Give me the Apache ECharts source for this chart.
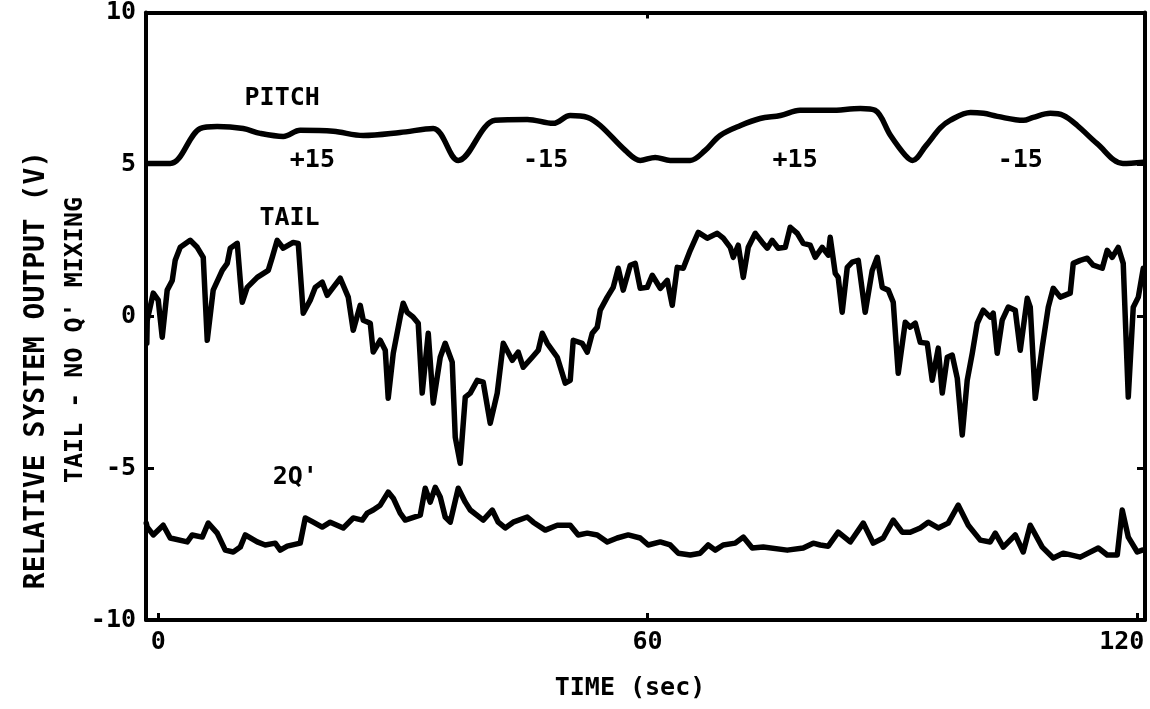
<!DOCTYPE html>
<html>
<head>
<meta charset="utf-8">
<script src="https://cdn.jsdelivr.net/npm/echarts@6/dist/echarts.min.js"></script>
<style>
html,body{margin:0;padding:0;background:#fff;}
#chart{width:1150px;height:709px;}
</style>
</head>
<body>
<div id="chart"></div>
<script>
// ---- data (time in sec, output in V) ----
const xTickVals = [0, 60, 120];
const yTickLabels = ['-10', '-5', '0', '5', '10'];

const pitchData = [
  [-1.4,5.03],[1.47,5.03],[5.15,6.18],[7.23,6.25],[10.42,6.18],[12.51,6.02],[15.33,5.92],[17.41,6.12],
  [21.46,6.09],[25.14,5.95],[29.67,6.05],[33.72,6.18],[36.79,5.13],[41.32,6.45],[45.25,6.48],[48.44,6.35],
  [50.52,6.61],[52.61,6.55],[54.2,6.28],[57.27,5.46],[59.1,5.13],[60.94,5.23],[62.78,5.13],[65.23,5.13],
  [67.07,5.46],[68.9,5.95],[71.4,6.28],[73.8,6.51],[76.3,6.61],[78.7,6.78],[82.4,6.78],[86.1,6.84],
  [87.9,6.78],[89.8,5.95],[91.6,5.3],[92.5,5.13],[94.1,5.6],[95.9,6.2],[97.1,6.45],[99.6,6.71],
  [101.2,6.68],[102.9,6.58],[106.1,6.45],[107.3,6.55],[109.4,6.68],[111.0,6.61],[112.7,6.28],[115.1,5.69],
  [118.3,5.03],[120.8,5.07]
];

const tailData = [
  [-1.4,-0.89],[-1.35,-0.13],[-0.61,0.76],[0,0.53],[0.49,-0.69],[1.10,0.86],[1.72,1.18],[2.08,1.84],
  [2.70,2.27],[3.92,2.50],[4.78,2.27],[5.52,1.94],[6.01,-0.79],[6.74,0.86],[7.85,1.51],[8.46,1.74],
  [8.83,2.24],[9.69,2.40],[10.06,1.18],[10.30,0.46],[10.91,0.95],[12.14,1.28],[13.49,1.51],[13.98,1.94],
  [14.59,2.50],[15.33,2.24],[16.55,2.43],[17.17,2.40],[17.78,0.10],[18.64,0.53],[19.25,0.95],[20.11,1.12],
  [20.72,0.69],[21.46,0.95],[22.32,1.25],[23.30,0.63],[23.91,-0.46],[24.77,0.36],[25.14,-0.13],[26.00,-0.23],
  [26.36,-1.18],[27.22,-0.79],[27.84,-1.12],[28.20,-2.70],[28.82,-1.22],[29.67,-0.03],[30.04,0.43],[30.53,0.13],
  [31.27,-0.03],[31.88,-0.23],[32.37,-2.53],[33.11,-0.56],[33.72,-2.86],[34.58,-1.35],[35.19,-0.89],[36.05,-1.51],
  [36.42,-3.98],[37.03,-4.84],[37.65,-2.66],[38.26,-2.53],[39.12,-2.11],[39.85,-2.17],[40.71,-3.52],[41.57,-2.53],
  [42.31,-0.89],[43.41,-1.45],[44.14,-1.18],[44.76,-1.68],[45.86,-1.35],[46.60,-1.12],[47.09,-0.56],[47.70,-0.89],
  [48.93,-1.35],[49.91,-2.20],[50.52,-2.11],[50.89,-0.79],[51.99,-0.89],[52.61,-1.18],[53.22,-0.56],[53.83,-0.36],
  [54.20,0.20],[55.06,0.63],[55.79,0.95],[56.41,1.58],[57.02,0.86],[57.88,1.68],[58.49,1.74],[59.10,0.92],
  [59.96,0.95],[60.58,1.35],[61.56,0.92],[62.42,1.18],[63.03,0.36],[63.64,1.61],[64.38,1.58],[65.24,2.17],
  [66.22,2.76],[67.32,2.57],[68.55,2.73],[69.29,2.57],[70.14,2.27],[70.51,1.94],[71.12,2.34],[71.74,1.28],
  [72.35,2.27],[73.21,2.73],[74.07,2.43],[74.68,2.24],[75.29,2.50],[76.03,2.24],[76.89,2.27],[77.50,2.93],
  [78.36,2.73],[79.09,2.40],[79.95,2.34],[80.56,1.94],[81.42,2.27],[82.16,2.01],[82.40,2.60],[83.02,1.41],
  [83.38,1.28],[83.87,0.13],[84.49,1.61],[85.10,1.78],[85.84,1.84],[86.69,0.13],[87.55,1.51],[88.17,1.94],
  [88.78,0.95],[89.52,0.86],[90.13,0.46],[90.74,-1.88],[91.60,-0.20],[92.21,-0.36],[92.83,-0.23],[93.44,-0.86],
  [94.30,-0.89],[94.91,-2.11],[95.65,-1.05],[96.14,-2.53],[96.75,-1.35],[97.36,-1.28],[97.98,-2.04],[98.59,-3.91],
  [99.20,-2.11],[99.82,-1.22],[100.43,-0.23],[101.16,0.20],[102.02,-0.03],[102.39,0.10],[102.88,-1.22],[103.49,-0.13],
  [104.23,0.30],[105.09,0.20],[105.70,-1.12],[106.56,0.59],[106.93,0.30],[107.54,-2.70],[108.40,-1.02],[109.14,0.30],
  [109.75,0.92],[110.61,0.63],[111.83,0.76],[112.20,1.74],[113.06,1.84],[113.92,1.91],[114.65,1.68],[115.76,1.58],
  [116.37,2.17],[116.98,1.94],[117.72,2.27],[118.33,1.74],[118.95,-2.66],[119.56,0.30],[120.18,0.63],[120.79,1.58]
];

const q2Data = [
  [-1.47,-6.81],[-1.35,-6.94],[-0.61,-7.20],[0.61,-6.88],[1.47,-7.30],[3.56,-7.43],[4.17,-7.20],[5.40,-7.27],
  [6.13,-6.81],[7.23,-7.14],[8.22,-7.70],[9.20,-7.76],[10.06,-7.60],[10.67,-7.20],[12.14,-7.43],[13.12,-7.53],
  [14.35,-7.47],[14.96,-7.70],[15.82,-7.57],[17.41,-7.47],[18.03,-6.64],[19.01,-6.78],[20.11,-6.94],[21.09,-6.78],
  [22.69,-6.97],[23.91,-6.64],[25.02,-6.71],[25.63,-6.48],[26.36,-6.38],[27.22,-6.22],[28.20,-5.79],[28.82,-5.99],
  [29.67,-6.48],[30.29,-6.71],[32.13,-6.55],[32.74,-5.66],[33.35,-6.12],[33.97,-5.63],[34.58,-5.95],[35.19,-6.61],
  [35.81,-6.78],[36.79,-5.66],[37.65,-6.12],[38.26,-6.38],[39.85,-6.71],[40.96,-6.38],[41.69,-6.78],[42.55,-6.97],
  [43.53,-6.78],[45.25,-6.61],[45.98,-6.78],[47.46,-7.04],[48.93,-6.88],[50.52,-6.88],[51.50,-7.20],[52.61,-7.14],
  [53.83,-7.20],[55.06,-7.43],[56.28,-7.30],[57.63,-7.20],[59.10,-7.30],[60.09,-7.53],[61.56,-7.43],[62.78,-7.53],
  [63.76,-7.80],[65.24,-7.86],[66.46,-7.80],[67.44,-7.53],[68.30,-7.70],[69.28,-7.53],[70.75,-7.47],[71.74,-7.27],
  [72.84,-7.63],[74.19,-7.60],[77.13,-7.70],[79.09,-7.63],[80.32,-7.47],[81.18,-7.53],[82.16,-7.57],[83.38,-7.11],
  [84.86,-7.43],[86.45,-6.81],[87.68,-7.47],[88.90,-7.30],[90.13,-6.71],[91.23,-7.11],[92.21,-7.11],[93.44,-6.97],
  [94.42,-6.78],[95.65,-6.97],[96.87,-6.81],[98.10,-6.22],[99.33,-6.88],[100.80,-7.37],[102.02,-7.43],[102.64,-7.14],
  [103.62,-7.60],[105.09,-7.20],[106.07,-7.76],[106.93,-6.88],[108.40,-7.60],[109.75,-7.96],[110.97,-7.80],[113.06,-7.93],
  [115.27,-7.63],[116.37,-7.86],[117.60,-7.86],[118.21,-6.38],[118.95,-7.27],[120.05,-7.76],[120.66,-7.70]
];

const annoText = ['PITCH', '+15', '-15', '+15', '-15', 'TAIL', "2Q'"];
const annoT    = [15.2, 18.9, 47.5, 78.1, 105.7, 16.1, 16.8];
const annoV    = [7.17, 5.13, 5.13, 5.13, 5.13, 3.22, -5.3];

// ---- chart ----
const FONT = '"DejaVu Sans Mono", "Liberation Mono", monospace';
const FS = 25;
const FW = 'bold';
const chart = echarts.init(document.getElementById('chart'), null, {renderer: 'canvas'});

const annoData = annoText.map((s, i) => ({value: [annoT[i], annoV[i]], name: s}));

const lineSeries = (name, data, smooth) => ({
  name, type: 'line', data, showSymbol: false, symbol: 'none', smooth,
  lineStyle: {color: '#000', width: 5.5, join: 'round', cap: 'round'},
  z: 3
});

chart.setOption({
  animation: false,
  backgroundColor: '#fff',
  grid: {left: 146, right: 5, top: 12, bottom: 89},
  xAxis: [{
    type: 'value', position: 'bottom', min: -1.5, max: 121,
    splitLine: {show: false},
    axisLine: {show: true, onZero: false, lineStyle: {color: '#000', width: 4}},
    axisTick: {show: true, inside: true, length: 7, customValues: xTickVals, lineStyle: {color: '#000', width: 3}},
    axisLabel: {
      customValues: xTickVals, margin: 10, color: '#000', fontFamily: FONT, fontSize: FS, fontWeight: FW,
      formatter: v => v === 120 ? '{r|120}' : String(v),
      rich: {r: {fontFamily: FONT, fontSize: FS, fontWeight: FW, color: '#000', padding: [0, 30, 0, 0]}}
    }
  }, {
    type: 'value', position: 'top', min: -1.5, max: 121,
    splitLine: {show: false},
    axisLine: {show: true, onZero: false, lineStyle: {color: '#000', width: 4}},
    axisTick: {show: true, inside: true, length: 6, customValues: [60], lineStyle: {color: '#000', width: 3}},
    axisLabel: {show: false}
  }],
  yAxis: [{
    type: 'value', position: 'left', min: -10, max: 10, interval: 5,
    splitLine: {show: false},
    axisLine: {show: true, onZero: false, lineStyle: {color: '#000', width: 4}},
    axisTick: {show: true, inside: true, length: 8, lineStyle: {color: '#000', width: 3}},
    axisLabel: {margin: 10, color: '#000', fontFamily: FONT, fontSize: FS, fontWeight: FW,
      formatter: v => yTickLabels[Math.round((v + 10) / 5)]}
  }, {
    type: 'value', position: 'right', min: -10, max: 10, interval: 5,
    splitLine: {show: false},
    axisLine: {show: true, onZero: false, lineStyle: {color: '#000', width: 4}},
    axisTick: {show: true, inside: true, length: 8, lineStyle: {color: '#000', width: 3}},
    axisLabel: {show: false}
  }],
  series: [
    lineSeries('PITCH', pitchData, 0.35),
    lineSeries('TAIL', tailData, false),
    lineSeries("2Q'", q2Data, false),
    {
      name: 'labels', type: 'scatter', data: annoData, symbolSize: 0, z: 5, silent: true,
      itemStyle: {opacity: 1},
      label: {show: true, position: 'inside', formatter: p => p.name, opacity: 1,
        color: '#000', fontFamily: FONT, fontSize: FS, fontWeight: FW}
    }
  ],
  graphic: [
    {type: 'text', x: 630, y: 688, style: {text: 'TIME (sec)', fontFamily: FONT, fontSize: FS, fontWeight: FW, fill: '#000', align: 'center', verticalAlign: 'middle'}},
    {type: 'text', x: 37, y: 370, rotation: Math.PI / 2, style: {text: 'RELATIVE SYSTEM OUTPUT (V)', fontFamily: FONT, fontSize: 28, fontWeight: FW, fill: '#000', align: 'center', verticalAlign: 'middle'}},
    {type: 'text', x: 75, y: 340, rotation: Math.PI / 2, style: {text: "TAIL - NO Q' MIXING", fontFamily: FONT, fontSize: FS, fontWeight: FW, fill: '#000', align: 'center', verticalAlign: 'middle'}}
  ]
});
</script>
</body>
</html>
